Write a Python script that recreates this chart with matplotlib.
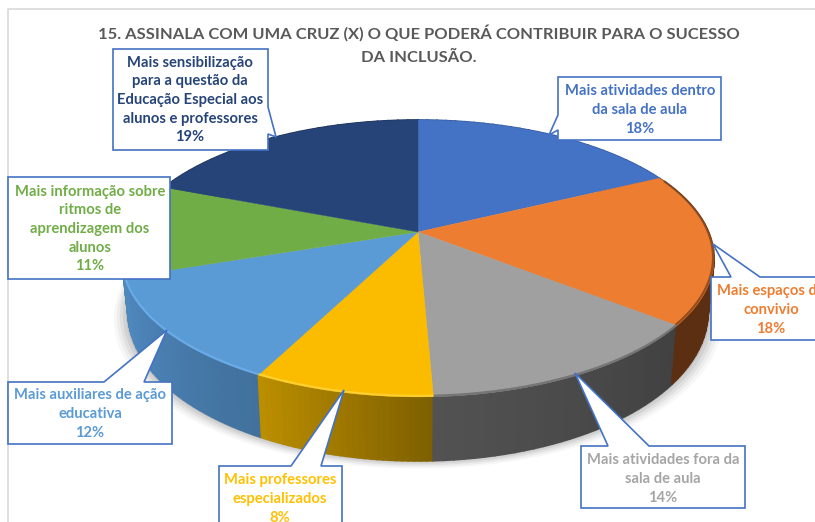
import numpy as np
import matplotlib
matplotlib.use("Agg")
from matplotlib import pyplot as plt

plt.rcParams['font.family'] = ['Lato', 'DejaVu Sans']

# respostas (contagens lidas a partir das percentagens)
labels = ["Mais atividades dentro\nda sala de aula", "Mais espaços de\nconvivio",
          "Mais atividades fora da\nsala de aula", "Mais professores\nespecializados",
          "Mais auxiliares de ação\neducativa",
          "Mais informação sobre\nritmos de\naprendizagem dos\nalunos",
          "Mais sensibilização\npara a questão da\nEducação Especial aos\nalunos e professores"]
values = [13, 13, 10, 6, 9, 8, 14]
percent = ["18%", "18%", "14%", "8%", "12%", "11%", "19%"]
colors = ["#4472c4", "#ed7d31", "#a5a5a5", "#ffc000", "#5b9bd5", "#70ad47", "#264478"]
top_colors = ["#4472c4", "#ed7d31", "#a0a0a0", "#fbbc00", "#5b9bd5", "#70ad47", "#264478"]
side_start = ["#2f5597", "#5c2f12", "#414141", "#7f6000", "#41719c", "#4f88b0", "#1a2f55"]
side_end = ["#2f5597", "#5c2f12", "#525252", "#bb8e00", "#4f88bf", "#4f88b0", "#1a2f55"]
rim_colors = [None, "#5c2f12", "#5a5a5a", "#ffdc50", "#74b6f2", None, None]

# caixas: x0, x1, y0, y1
boxes = [(558, 721, 77, 140), (711, 830, 277, 340), (581, 745, 446, 508), (219, 342, 466, 540),
         (8, 172, 382, 444), (8, 170, 177, 279), (113, 268, 49, 150)]
# setas: base1, ponta, base2 (None = sem seta)
tips = [[(558, 115), (549, 135), (558, 130)], [(731, 277), (713, 244), (760, 277)],
        [(608, 446), (575, 373), (649, 446)], [(291, 466), (344, 390), (321, 466)],
        [(104, 382), (167, 330), (144, 382)], None, [(268, 107), (276, 137), (268, 134)]]
text_pos = [(640, 110), (771, 310), (663, 479), (280, 499), (90, 414), (90, 229), (190, 100)]

cx, cy = 418, 232
persp, ky, kx = 0.191, 133.4, 290.6


def top_xy(t):
    X, Y = np.sin(t), np.cos(t)
    d = 1 + persp * Y
    return cx + kx * X / d, cy - ky * Y / d


def bottom_xy(t):
    x, y = top_xy(t)
    return cx + (x - cx) * 0.98, y + 50.5 - 13.5 * np.cos(t)


fig = plt.figure(figsize=(8.15, 5.22), dpi=100)
ax = fig.add_axes([0, 0, 1, 1])
ax.set_xlim(0, 815)
ax.set_ylim(522, 0)
ax.axis("off")

# moldura do grafico
ax.plot([8, 8, 815], [522, 9, 9], color="#d9d9d9", lw=1.2, zorder=0)

edges = np.cumsum([0] + values) / sum(values) * 2 * np.pi

# sombra
ts = np.linspace(np.pi * 0.45, np.pi * 1.55, 200)
for grow, a in zip([14, 11, 8, 5, 2], [0.03, 0.04, 0.05, 0.06, 0.08]):
    bx, by = bottom_xy(ts)
    ax.fill((bx - cx) * (1 + grow / 290) + cx, by + grow * 0.55, color="#000000", alpha=a, lw=0, zorder=1)


def hex_rgb(c):
    return np.array(matplotlib.colors.to_rgb(c))


# lateral
for i in range(len(values)):
    steps = np.linspace(edges[i], edges[i + 1], 30)
    for j in range(len(steps) - 1):
        f = j / (len(steps) - 2)
        col = hex_rgb(side_start[i]) * (1 - f) + hex_rgb(side_end[i]) * f
        t = np.linspace(steps[j], steps[j + 1], 3)
        xa, ya = top_xy(t)
        xb, yb = bottom_xy(t)
        ax.fill(np.r_[xa, xb[::-1]], np.r_[ya, yb[::-1]], color=col, lw=1.2, zorder=2 + j * 0.001)

# topo
for i in range(len(values)):
    t = np.linspace(edges[i], edges[i + 1], 120)
    x, y = top_xy(t)
    ax.fill(np.r_[cx, x], np.r_[cy, y], color=top_colors[i], lw=0.3, zorder=3)
    if rim_colors[i] is not None:
        t2 = t[t > 1.15] if i == 1 else t
        x2, y2 = top_xy(t2)
        ax.plot(x2 - (1 if i == 1 else 0), y2 - 1, color=rim_colors[i], lw=1.6, alpha=0.6, zorder=4,
                solid_capstyle="butt")

# caixas de texto
for i in range(len(values)):
    x0, x1, y0, y1 = boxes[i]
    if tips[i] is None:
        vx, vy = [x0, x1, x1, x0], [y0, y0, y1, y1]
    elif tips[i][0][1] == tips[i][2][1] and tips[i][0][1] == y0:
        vx = [x0, tips[i][0][0], tips[i][1][0], tips[i][2][0], x1, x1, x0]
        vy = [y0, y0, tips[i][1][1], y0, y0, y1, y1]
    elif tips[i][0][0] == x1:
        vx = [x0, x1, x1, tips[i][1][0], x1, x1, x0]
        vy = [y0, y0, tips[i][0][1], tips[i][1][1], tips[i][2][1], y1, y1]
    else:
        vx = [x0, x1, x1, x0, x0, tips[i][1][0], x0]
        vy = [y0, y0, y1, y1, tips[i][2][1], tips[i][1][1], tips[i][0][1]]
    ax.fill(vx, vy, facecolor="white", edgecolor="#4472c4", lw=1.2, zorder=5, clip_on=True)
    ax.text(text_pos[i][0], text_pos[i][1], labels[i] + "\n" + percent[i], color=colors[i],
            fontsize=10.6, fontweight="bold", ha="center", va="center", linespacing=1.42, zorder=6)

ax.text(419, 33, "15. ASSINALA COM UMA CRUZ (X) O QUE PODERÁ CONTRIBUIR PARA O SUCESSO",
        color="#595959", fontsize=11.85, fontweight="bold", ha="center", va="center")
ax.text(419, 58, "DA INCLUSÃO.", color="#595959", fontsize=11.85, fontweight="bold", ha="center", va="center")

fig.savefig("out.png", dpi=100)
